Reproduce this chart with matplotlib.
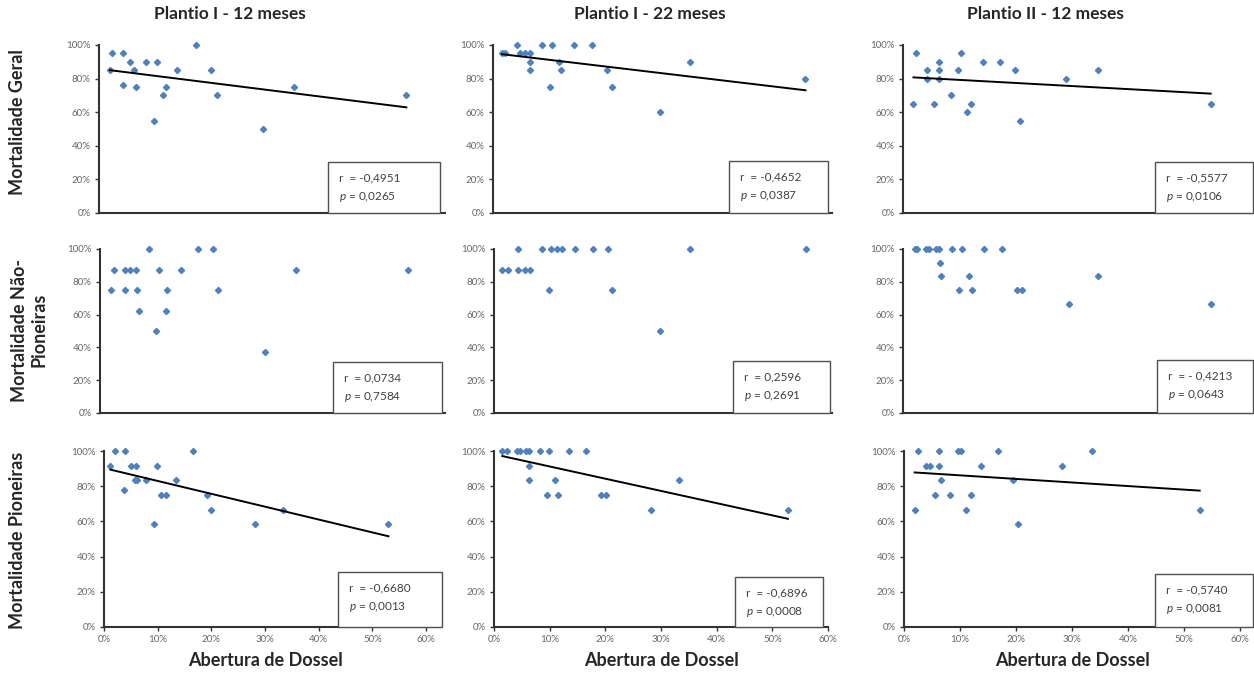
import matplotlib
matplotlib.use('Agg')
import matplotlib.pyplot as plt
import numpy as np
from matplotlib.patches import Rectangle
from matplotlib.ticker import PercentFormatter, MultipleLocator

plt.rcParams['font.family'] = ['Lato', 'DejaVu Sans']
plt.rcParams['mathtext.fontset'] = 'custom'
plt.rcParams['mathtext.it'] = 'Lato:italic'
plt.rcParams['mathtext.rm'] = 'Lato'

W, H = 1254, 677

col_titles = ['Plantio I - 12 meses', 'Plantio I - 22 meses', 'Plantio II - 12 meses']
row_labels = ['Mortalidade Geral', 'Mortalidade Não-\nPioneiras', 'Mortalidade Pioneiras']
x_label = 'Abertura de Dossel'

# abertura de dossel (%) x mortalidade (%)
geral_i12_x = [1.9, 2.3, 4.2, 4.1, 5.3, 6.0, 6.5, 8.2, 10.1, 9.5, 11.1, 11.7, 13.5, 16.9, 19.5, 20.4, 28.5, 33.8, 53.3]
geral_i12_y = [85, 95, 95, 76, 90, 85, 75, 90, 90, 55, 70, 75, 85, 100, 85, 70, 50, 75, 70]
geral_i22_x = [1.6, 2.2, 4.2, 4.8, 5.7, 6.5, 6.5, 6.5, 8.6, 10.0, 10.4, 11.6, 12.1, 14.3, 17.5, 20.2, 21.1, 29.5, 34.8, 55.3]
geral_i22_y = [95, 95, 100, 95, 95, 95, 90, 85, 100, 75, 100, 90, 85, 100, 100, 85, 75, 60, 90, 80]
geral_ii12_x = [1.8, 2.2, 4.2, 4.2, 5.3, 6.2, 6.2, 6.2, 8.2, 9.4, 10.0, 11.0, 11.7, 13.7, 16.7, 19.3, 20.2, 28.0, 33.5, 52.9]
geral_ii12_y = [65, 95, 85, 80, 65, 90, 85, 80, 70, 85, 95, 60, 65, 90, 90, 85, 55, 80, 85, 65]

nonpio_i12_x = [1.9, 2.5, 4.3, 4.3, 5.2, 6.3, 6.4, 6.7, 8.5, 9.7, 10.3, 11.6, 11.4, 14.0, 17.0, 19.7, 20.5, 28.7, 34.0, 53.5]
nonpio_i12_y = [75, 87.5, 87.5, 75, 87.5, 87.5, 75, 62.5, 100, 50, 87.5, 75, 62.5, 87.5, 100, 100, 75, 37.5, 87.5, 87.5]
nonpio_i22_x = [1.5, 2.4, 4.2, 4.3, 5.5, 6.4, 8.5, 9.8, 10.1, 11.2, 12.0, 14.4, 17.5, 20.2, 21.0, 29.5, 34.8, 55.3]
nonpio_i22_y = [87.5, 87.5, 100, 87.5, 87.5, 87.5, 100, 75, 100, 100, 100, 100, 100, 100, 75, 50, 100, 100]
nonpio_ii12_x = [2.0, 2.4, 3.9, 4.5, 5.6, 6.2, 6.3, 6.6, 8.4, 9.7, 10.2, 11.3, 11.8, 13.9, 17.0, 19.6, 20.4, 28.5, 33.5, 53.0]
nonpio_ii12_y = [100, 100, 100, 100, 100, 100, 91.7, 83.3, 100, 75, 100, 83.3, 75, 100, 100, 75, 75, 66.7, 83.3, 66.7]

pio_i12_x = [1.2, 2.0, 4.0, 3.8, 5.0, 5.9, 5.7, 6.2, 7.9, 9.8, 9.3, 10.7, 11.5, 13.4, 16.5, 19.1, 20.0, 28.1, 33.3, 53.0]
pio_i12_y = [91.7, 100, 100, 77.8, 91.7, 91.7, 83.3, 83.3, 83.3, 91.7, 58.3, 75, 75, 83.3, 100, 75, 66.7, 58.3, 66.7, 58.3]
pio_i22_x = [1.5, 2.3, 4.1, 4.7, 5.7, 6.3, 6.2, 6.3, 8.3, 9.5, 9.9, 10.9, 11.5, 13.5, 16.6, 19.3, 20.1, 28.2, 33.2, 52.8]
pio_i22_y = [100, 100, 100, 100, 100, 100, 91.7, 83.3, 100, 75, 100, 83.3, 75, 100, 100, 75, 75, 66.7, 83.3, 66.7]
pio_ii12_x = [1.9, 2.5, 4.0, 4.6, 5.5, 6.2, 6.2, 6.6, 8.3, 9.7, 10.1, 11.1, 11.9, 13.8, 16.8, 19.4, 20.4, 28.3, 33.6, 52.8]
pio_ii12_y = [66.7, 100, 91.7, 91.7, 75, 100, 91.7, 83.3, 75, 100, 100, 66.7, 75, 91.7, 100, 83.3, 58.3, 91.7, 100, 66.7]

r_text = [['-0,4951', '-0,4652', '-0,5577'],
          ['0,0734', '0,2596', '- 0,4213'],
          ['-0,6680', '-0,6896', '-0,5740']]
p_text = [['0,0265', '0,0387', '0,0106'],
          ['0,7584', '0,2691', '0,0643'],
          ['0,0013', '0,0008', '0,0081']]
has_trend = [True, False, True]

panels = [
    [(geral_i12_x, geral_i12_y), (geral_i22_x, geral_i22_y), (geral_ii12_x, geral_ii12_y)],
    [(nonpio_i12_x, nonpio_i12_y), (nonpio_i22_x, nonpio_i22_y), (nonpio_ii12_x, nonpio_ii12_y)],
    [(pio_i12_x, pio_i12_y), (pio_i22_x, pio_i22_y), (pio_ii12_x, pio_ii12_y)],
]

# layout in pixels: (left, top, right, bottom)
axes_px = [
    [(99, 45, 445, 213), (493, 45, 832, 213), (903, 45, 1252, 213)],
    [(100, 249, 445, 413), (494, 249, 832, 413), (903, 249, 1252, 413)],
    [(104, 451, 426, 627), (494, 451, 828, 627), (904, 451, 1240, 627)],
]
# stats box: (left, top, right)
box_px = [
    [(328, 162, 440), (729, 161, 828), (1155, 162, 1253)],
    [(333, 362, 442), (733, 361, 830), (1157, 360, 1253)],
    [(338, 572, 442), (735, 577, 823), (1155, 574, 1253)],
]
title_cx = [230, 650, 1045]
row_cy = [122, 330, 540]

BLUE = '#4F81BD'
AXC = '#333333'
TXT = '#262626'


def fx(px):
    return px / W


def fy(py):
    return 1 - py / H


fig = plt.figure(figsize=(W / 100, H / 100), dpi=100)

for i in range(3):
    for j in range(3):
        l, t, r, b = axes_px[i][j]
        ax = fig.add_axes([fx(l), fy(b), (r - l) / W, (b - t) / H])
        x, y = panels[i][j]
        ax.plot(x, y, 'D', color=BLUE, ms=3.1, mec=BLUE, clip_on=False)
        if has_trend[i]:
            k, c = np.polyfit(x, y, 1)
            xs = np.array([min(x), max(x)])
            ax.plot(xs, k * xs + c, color='black', lw=1.4)
        ax.set_xlim(0, 60)
        ax.set_ylim(0, 100)
        ax.yaxis.set_major_locator(MultipleLocator(20))
        ax.yaxis.set_major_formatter(PercentFormatter(100, decimals=0))
        ax.xaxis.set_major_locator(MultipleLocator(10))
        ax.xaxis.set_major_formatter(PercentFormatter(100, decimals=0))
        for s in ['top', 'right']:
            ax.spines[s].set_visible(False)
        for s in ['left', 'bottom']:
            ax.spines[s].set_color(AXC)
            ax.spines[s].set_linewidth(1.5)
        ax.tick_params(axis='both', labelsize=7, labelcolor='#666666', color=AXC,
                       length=3, width=1, pad=3)
        if i < 2:
            ax.tick_params(axis='x', length=0, labelbottom=False)

        # stats box
        bl, bt, br = box_px[i][j]
        fig.add_artist(Rectangle((fx(bl), fy(b)), (br - bl) / W, (b - bt) / H,
                                 transform=fig.transFigure, facecolor='white',
                                 edgecolor='#505050', lw=1, zorder=5))
        fig.text(fx(bl + 11), fy(bt + 16), 'r  = ' + r_text[i][j], fontsize=8.5,
                 color='#404040', va='center', zorder=6)
        fig.text(fx(bl + 11), fy(bt + 35), r'$\it{p}$ = ' + p_text[i][j], fontsize=8.5,
                 color='#404040', va='center', zorder=6)

# column titles and x labels
for j, title in enumerate(col_titles):
    fig.text(fx(title_cx[j]), fy(14), title, ha='center', va='center',
             fontsize=12.5, fontweight='bold', color=TXT)
    l, t, r, b = axes_px[2][j]
    fig.text(fx((l + r) / 2), fy(661), x_label, ha='center', va='center',
             fontsize=13, fontweight='bold', color=TXT)

# row labels
for i, lab in enumerate(row_labels):
    fig.text(fx(29 if i == 1 else 18), fy(row_cy[i]), lab, rotation=90,
             ha='center', va='center', multialignment='center',
             fontsize=13, fontweight='bold', color=TXT, linespacing=1.15)

fig.savefig('out.png', dpi=100)
